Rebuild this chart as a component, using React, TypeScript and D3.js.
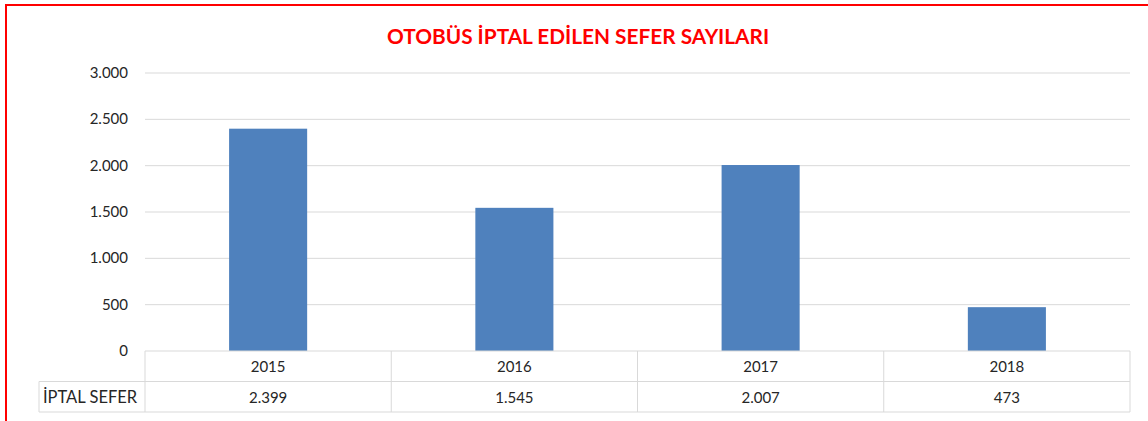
import React from "react";
import * as d3 from "d3";

const title = "OTOBÜS İPTAL EDİLEN SEFER SAYILARI";
const years = ["2015", "2016", "2017", "2018"];
const values = [2399, 1545, 2007, 473];
const seriesName = "İPTAL SEFER";
const yTicks = [0, 500, 1000, 1500, 2000, 2500, 3000];

const W = 1148;
const H = 421;
const plotLeft = 145;
const plotRight = 1130;
const plotTop = 73;
const plotBottom = 351;
const rowH = 30.5;
const font = "Lato, 'Open Sans', sans-serif";

const fmt = (v: number) => d3.format(",")(v).replace(/,/g, ".");

export default function App() {
  const x = d3.scaleBand<string>().domain(years).range([plotLeft, plotRight]).paddingInner(0).paddingOuter(0);
  const y = d3.scaleLinear().domain([0, 3000]).range([plotBottom, plotTop]);
  const bw = x.bandwidth() * 0.317;
  const grid = "#d9d9d9";
  const txt = "#262626";
  return (
    <svg width={W} height={H} style={{ position: "absolute", left: 0, top: 0 }}>
      <rect x={0} y={0} width={W} height={H} fill="#fff" />
      <line x1={6} x2={W} y1={5} y2={5} stroke="#ff0000" strokeWidth={2} />
      <line x1={6} x2={6} y1={4} y2={H} stroke="#ff0000" strokeWidth={2} />
      <text x={578} y={44} textAnchor="middle" fill="#ff0000" fontFamily={font} fontWeight="bold" fontSize={20.8}>
        {title}
      </text>
      {yTicks.map((t) => (
        <g key={t}>
          {t > 0 && <line x1={plotLeft} x2={plotRight} y1={y(t)} y2={y(t)} stroke={grid} strokeWidth={1} />}
          <text x={128} y={y(t) + 5} textAnchor="end" fill={txt} fontFamily={font} fontSize={15}>
            {fmt(t)}
          </text>
        </g>
      ))}
      {years.map((yr, i) => {
        const cx = (x(yr) as number) + x.bandwidth() / 2;
        return (
          <rect key={yr} x={cx - bw / 2} y={y(values[i])} width={bw} height={plotBottom - y(values[i])} fill="#4f81bd" />
        );
      })}
      {/* table */}
      <g stroke={grid} strokeWidth={1} fill="none">
        <line x1={plotLeft} x2={plotRight} y1={plotBottom} y2={plotBottom} />
        <line x1={39} x2={plotRight} y1={plotBottom + rowH} y2={plotBottom + rowH} />
        <line x1={39} x2={plotRight} y1={plotBottom + 2 * rowH} y2={plotBottom + 2 * rowH} />
        <line x1={39} x2={39} y1={plotBottom + rowH} y2={plotBottom + 2 * rowH} />
        {years.map((yr) => (
          <line key={yr} x1={x(yr) as number} x2={x(yr) as number} y1={plotBottom} y2={plotBottom + 2 * rowH} />
        ))}
        <line x1={plotRight} x2={plotRight} y1={plotBottom} y2={plotBottom + 2 * rowH} />
      </g>
      {years.map((yr, i) => {
        const cx = (x(yr) as number) + x.bandwidth() / 2;
        return (
          <g key={yr}>
            <text x={cx} y={plotBottom + 21} textAnchor="middle" fill={txt} fontFamily={font} fontSize={15}>
              {yr}
            </text>
            <text x={cx} y={plotBottom + rowH + 21} textAnchor="middle" fill={txt} fontFamily={font} fontSize={15}>
              {fmt(values[i])}
            </text>
          </g>
        );
      })}
      <text x={43} y={plotBottom + rowH + 21} fill={txt} fontFamily={font} fontSize={16.5}>
        {seriesName}
      </text>
    </svg>
  );
}
